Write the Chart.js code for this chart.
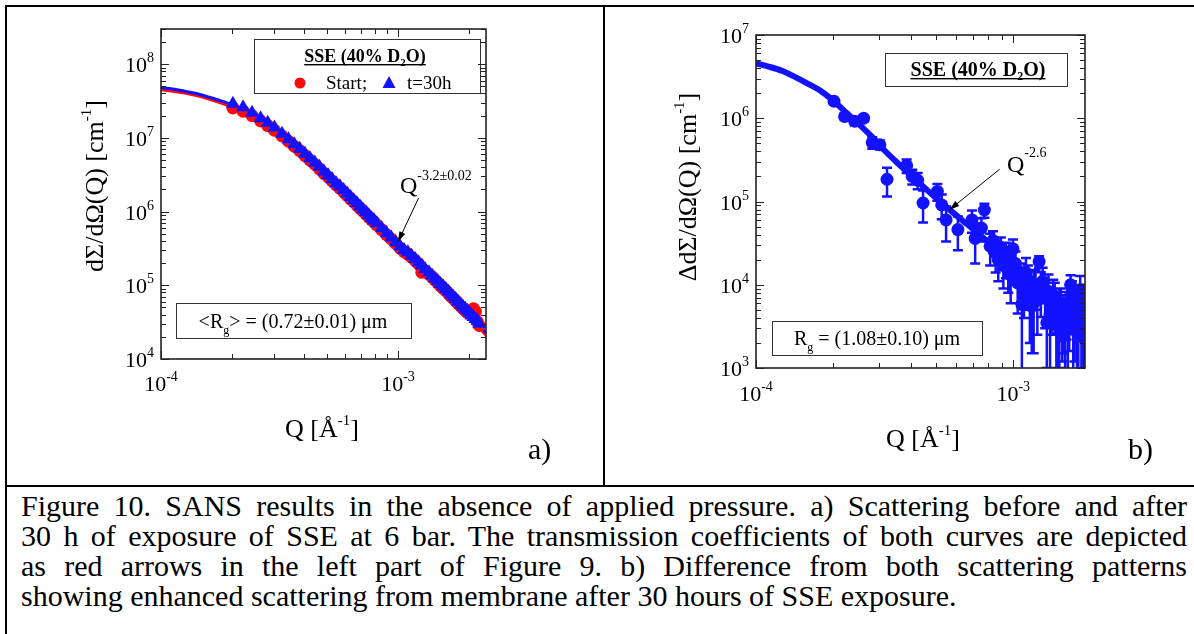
<!DOCTYPE html>
<html>
<head>
<meta charset="utf-8">
<title>SANS results in the absence of applied pressure</title>
<script src="https://cdn.jsdelivr.net/npm/chart.js@4.4.1/dist/chart.umd.min.js"></script>
<style>
  html, body { margin: 0; padding: 0; background: #fff; }
  body { width: 1194px; height: 634px; position: relative; overflow: hidden;
         font-family: "Liberation Serif", "Times New Roman", serif; color: #000; }
  .cell { position: absolute; top: 0; height: 486px; }
  .cell canvas { display: block; }
  #cellA { left: 0; width: 604px; }
  #cellB { left: 604px; width: 590px; }
  .rule { position: absolute; background: #000; z-index: 2; }
  #caption { position: absolute; left: 21px; top: 491px; width: 1166px;
             font-size: 30px; line-height: 30px; }
  #caption div { text-align: justify; text-align-last: justify; white-space: nowrap; }
  #caption div.last { text-align-last: left; }
</style>
</head>
<body>
<div class="cell" id="cellA"><canvas id="chartA" width="604" height="486"></canvas></div>
<div class="cell" id="cellB"><canvas id="chartB" width="590" height="486"></canvas></div>
<div class="rule" style="left:5px;top:5px;width:1189px;height:2px"></div>
<div class="rule" style="left:5px;top:5px;width:2px;height:629px"></div>
<div class="rule" style="left:603px;top:5px;width:2px;height:481px"></div>
<div class="rule" style="left:5px;top:485px;width:1189px;height:2px"></div>
<div id="caption">
  <div>Figure 10. SANS results in the absence of applied pressure. a) Scattering before and after</div>
  <div>30 h of exposure of SSE at 6 bar. The transmission coefficients of both curves are depicted</div>
  <div>as red arrows in the left part of Figure 9. b) Difference from both scattering patterns</div>
  <div class="last">showing enhanced scattering from membrane after 30 hours of SSE exposure.</div>
</div>
<script>
const SERIF = '"Liberation Serif", "Times New Roman", serif';
const BLUE = '#1212ff';
const RED = '#ff0a0a';

// ---- Panel a): scattering at start and after 30 h ----
const qA = [2.01e-4, 2.22e-4, 2.42e-4, 2.63e-4, 2.82e-4, 3.01e-4, 3.24e-4, 3.45e-4, 3.65e-4, 3.85e-4,
            4.05e-4, 4.25e-4, 4.46e-4, 4.66e-4, 4.87e-4, 5.07e-4, 5.27e-4, 5.48e-4, 5.68e-4, 5.89e-4,
            6.09e-4, 6.29e-4, 6.50e-4, 6.70e-4, 6.91e-4, 7.11e-4, 7.31e-4, 7.52e-4, 7.72e-4, 7.93e-4,
            8.13e-4, 8.54e-4, 8.95e-4, 9.36e-4, 9.77e-4,
            1.02e-3, 1.06e-3, 1.10e-3, 1.14e-3, 1.18e-3, 1.22e-3, 1.26e-3, 1.30e-3, 1.35e-3, 1.39e-3,
            1.43e-3, 1.47e-3, 1.51e-3, 1.55e-3, 1.59e-3, 1.63e-3, 1.67e-3, 1.71e-3, 1.75e-3, 1.79e-3,
            1.84e-3, 1.88e-3, 1.92e-3, 1.96e-3, 2.00e-3, 2.04e-3, 2.08e-3, 2.12e-3, 2.16e-3, 2.20e-3];
const startA = [2.55e7, 2.3e7, 2.0e7, 1.7e7, 1.47e7, 1.27e7, 1.06e7, 9.0e6, 7.7e6, 6.7e6,
                5.75e6, 5.0e6, 4.35e6, 3.8e6, 3.3e6, 2.95e6, 2.6e6, 2.32e6, 2.08e6, 1.86e6,
                1.67e6, 1.5e6, 1.35e6, 1.23e6, 1.11e6, 1.02e6, 9.3e5, 8.5e5, 7.8e5, 7.2e5,
                6.6e5, 5.65e5, 4.85e5, 4.25e5, 3.7e5,
                3.2e5, 2.85e5, 2.65e5, 2.4e5, 2.17e5, 1.95e5, 1.5e5, 1.58e5, 1.42e5, 1.3e5,
                1.18e5, 1.08e5, 9.9e4, 9.1e4, 8.5e4, 7.8e4, 7.1e4, 6.65e4, 6.2e4, 5.7e4,
                5.2e4, 4.85e4, 4.55e4, 4.3e4, 4.2e4, 4.6e4, 4.8e4, 4.4e4, 3.2e4, 2.85e4];
const t30A = [2.9e7, 2.6e7, 2.2e7, 1.85e7, 1.6e7, 1.38e7, 1.14e7, 9.6e6, 8.2e6, 7.1e6,
              6.1e6, 5.3e6, 4.6e6, 4.05e6, 3.5e6, 3.1e6, 2.75e6, 2.4e6, 2.2e6, 1.96e6,
              1.76e6, 1.58e6, 1.42e6, 1.31e6, 1.17e6, 1.07e6, 9.8e5, 8.9e5, 8.1e5, 7.55e5,
              6.95e5, 5.95e5, 5.1e5, 4.45e5, 3.85e5,
              3.35e5, 3.0e5, 2.8e5, 2.52e5, 2.28e5, 2.04e5, 1.85e5, 1.67e5, 1.49e5, 1.36e5,
              1.24e5, 1.14e5, 1.04e5, 9.6e4, 8.9e4, 8.2e4, 7.5e4, 7.0e4, 6.5e4, 6.0e4,
              5.5e4, 5.1e4, 4.8e4, 4.5e4, 4.2e4, 3.9e4, 3.7e4, 3.5e4, 3.3e4, 3.0e4];
const qFitA = [1.00e-4, 1.12e-4, 1.26e-4, 1.41e-4, 1.58e-4, 1.78e-4, 2.00e-4, 2.24e-4, 2.51e-4, 2.82e-4,
               3.16e-4, 3.55e-4, 3.98e-4, 4.47e-4, 5.01e-4, 5.62e-4, 6.31e-4, 7.08e-4, 7.94e-4, 8.91e-4,
               1.00e-3, 1.12e-3, 1.26e-3, 1.41e-3, 1.58e-3, 1.78e-3, 2.00e-3, 2.24e-3, 2.40e-3];
const fitStartA = [4.5e7, 4.3e7, 4.05e7, 3.75e7, 3.4e7, 3.0e7, 2.62e7, 2.2e7, 1.78e7, 1.4e7,
                   1.1e7, 8.2e6, 5.9e6, 4.2e6, 3.0e6, 2.07e6, 1.46e6, 1.0e6, 6.95e5, 4.8e5,
                   3.3e5, 2.3e5, 1.6e5, 1.1e5, 7.6e4, 5.25e4, 3.65e4, 2.5e4, 1.95e4];
const fitT30A = [4.8e7, 4.6e7, 4.3e7, 4.0e7, 3.6e7, 3.2e7, 2.8e7, 2.35e7, 1.9e7, 1.5e7,
                 1.17e7, 8.7e6, 6.3e6, 4.5e6, 3.2e6, 2.2e6, 1.55e6, 1.07e6, 7.4e5, 5.1e5,
                 3.5e5, 2.45e5, 1.7e5, 1.17e5, 8.1e4, 5.6e4, 3.9e4, 2.7e4, 2.1e4];

// ---- Panel b): difference of both patterns (with error bars) ----
const qB = [2.01e-4, 2.21e-4, 2.42e-4, 2.62e-4, 2.83e-4, 3.03e-4, 3.23e-4, 3.85e-4, 4.05e-4, 4.25e-4,
            4.46e-4, 5.07e-4, 5.27e-4, 5.48e-4, 6.09e-4, 6.91e-4, 7.11e-4, 7.52e-4, 7.72e-4, 8.13e-4,
            8.34e-4, 8.54e-4, 8.74e-4, 8.95e-4, 9.15e-4, 9.36e-4, 9.56e-4, 9.77e-4, 9.97e-4, 1.02e-3,
            1.04e-3, 1.06e-3, 1.08e-3, 1.10e-3, 1.12e-3, 1.14e-3, 1.16e-3, 1.18e-3, 1.20e-3, 1.22e-3,
            1.24e-3, 1.26e-3, 1.28e-3, 1.30e-3, 1.33e-3, 1.35e-3, 1.37e-3, 1.39e-3, 1.41e-3, 1.43e-3,
            1.45e-3, 1.47e-3, 1.49e-3, 1.51e-3, 1.53e-3, 1.55e-3, 1.57e-3, 1.59e-3, 1.61e-3, 1.63e-3,
            1.65e-3, 1.67e-3, 1.69e-3, 1.71e-3, 1.73e-3, 1.75e-3, 1.77e-3, 1.79e-3, 1.82e-3, 1.84e-3,
            1.86e-3, 1.88e-3, 1.90e-3];
const diffB = [1.6e6, 1.05e6, 9.2e5, 1.0e6, 5.1e5, 4.8e5, 1.85e5, 2.7e5, 2.0e5, 1.8e5,
               9.6e4, 1.32e5, 9.1e4, 6.0e4, 4.6e4, 6.0e4, 3.6e4, 4.8e4, 7.9e4, 2.9e4,
               3.4e4, 2.4e4, 2.0e4, 2.8e4, 1.7e4, 2.2e4, 1.5e4, 1.3e4, 2.7e4, 1.8e4,
               1.05e4, 1.2e4, 5.8e3, 9.0e3, 1.4e4, 1.1e4, 7.0e3, 5.5e3, 8.0e3, 1.0e4,
               6.5e3, 1.9e4, 9.1e3, 1.1e4, 7.0e3, 3.5e3, 8.3e3, 4.4e3, 5.5e3, 7.5e3,
               6.6e3, 4.0e3, 3.2e3, 5.0e3, 6.0e3, 2.4e3, 4.5e3, 3.0e3, 5.2e3, 3.8e3,
               4.6e3, 1.0e4, 8.0e3, 2.9e3, 4.2e3, 6.5e3, 3.5e3, 2.4e3, 8.7e3, 3.0e3,
               6.5e3, 5.0e3, 4.0e3];
const errB = [1.2e5, 1.0e5, 1.0e5, 9e4, 8e4, 6e4, 7e4, 5e4, 4e4, 4e4,
              4e4, 3e4, 3e4, 2.7e4, 2.0e4, 1.8e4, 1.8e4, 1.5e4, 1.5e4, 1.2e4,
              1.0e4, 1.0e4, 9e3, 9e3, 8e3, 1.0e4, 7e3, 7e3, 8e3, 7e3,
              6e3, 6e3, 6e3, 5e3, 7e3, 6e3, 5e3, 4e3, 6.5e3, 5e3,
              4e3, 3e3, 5e3, 5e3, 4e3, 2.5e3, 5e3, 5e3, 3e3, 4e3,
              4e3, 3e3, 3e3, 4e3, 3e3, 1.2e3, 3e3, 2.5e3, 3e3, 3e3,
              3e3, 3e3, 3e3, 3e3, 3e3, 3e3, 3e3, 2.4e3, 4e3, 2.5e3,
              3e3, 5e3, 3e3];
const qFitB = [1.00e-4, 1.12e-4, 1.26e-4, 1.41e-4, 1.58e-4, 1.78e-4, 2.00e-4, 2.24e-4, 2.51e-4, 2.82e-4,
               3.16e-4, 3.55e-4, 3.98e-4, 4.47e-4, 5.01e-4, 5.62e-4, 6.31e-4, 7.08e-4, 7.94e-4, 8.91e-4,
               1.00e-3, 1.12e-3, 1.26e-3, 1.41e-3, 1.58e-3, 1.78e-3, 2.00e-3];
const fitB = [4.57e6, 4.17e6, 3.72e6, 3.16e6, 2.63e6, 2.14e6, 1.62e6, 1.17e6, 8.5e5, 6.0e5,
              4.1e5, 2.9e5, 2.1e5, 1.51e5, 1.10e5, 8.1e4, 6.0e4, 4.5e4, 3.3e4, 2.45e4,
              1.82e4, 1.35e4, 1.0e4, 7.4e3, 5.5e3, 4.1e3, 3.0e3];

// decade exponents used for the tick labels
const xExpA = [-4, -3];
const yExpA = [4, 5, 6, 7, 8];
const xExpB = [-4, -3];
const yExpB = [3, 4, 5, 6, 7];

const pts = (xs, ys) => xs.map((x, i) => ({ x, y: ys[i] }));

// ---------- text helpers (plain, superscript, subscript runs) ----------
function partFont(p, size) {
  const s = p.size || ((p.sup || p.sub) ? Math.round(size * 0.62) : size);
  return (p.bold ? 'bold ' : '') + s + 'px ' + SERIF;
}
function partDy(p, size) {
  if (p.sup) return -(p.rise != null ? p.rise : size * 0.45);
  if (p.sub) return p.drop != null ? p.drop : size * 0.28;
  return 0;
}
function richWidth(ctx, parts, size) {
  let w = 0;
  for (const p of parts) { ctx.font = partFont(p, size); w += ctx.measureText(p.t).width; }
  return w;
}
function drawRich(ctx, parts, x, y, size, align, underline) {
  const w = richWidth(ctx, parts, size);
  let cx = align === 'center' ? x - w / 2 : align === 'right' ? x - w : x;
  const x0 = cx;
  ctx.textAlign = 'left';
  ctx.textBaseline = 'alphabetic';
  for (const p of parts) {
    ctx.font = partFont(p, size);
    ctx.fillText(p.t, cx, y + partDy(p, size));
    cx += ctx.measureText(p.t).width;
  }
  if (underline) ctx.fillRect(x0, y + 2, w, 1.4);
  return w;
}

// ---------- frame with inward log ticks on all four sides ----------
function logTicks(min, max) {
  const out = [];
  for (let d = Math.floor(Math.log10(min)); d <= Math.ceil(Math.log10(max)); d++) {
    for (let m = 1; m <= 9; m++) {
      const v = m * Math.pow(10, d);
      if (v >= min * 0.999 && v <= max * 1.001) out.push({ v, major: m === 1 });
    }
  }
  return out;
}
function drawFrame(chart) {
  const { ctx, chartArea: a, scales: { x, y } } = chart;
  ctx.save();
  ctx.strokeStyle = '#222';
  ctx.lineWidth = 1;
  ctx.beginPath();
  for (const t of logTicks(x.min, x.max)) {
    const px = Math.round(x.getPixelForValue(t.v)) + 0.5;
    const L = t.major ? 8 : 5;
    ctx.moveTo(px, a.bottom); ctx.lineTo(px, a.bottom - L);
    ctx.moveTo(px, a.top); ctx.lineTo(px, a.top + L);
  }
  for (const t of logTicks(y.min, y.max)) {
    const py = Math.round(y.getPixelForValue(t.v)) + 0.5;
    const L = t.major ? 8 : 5;
    ctx.moveTo(a.left, py); ctx.lineTo(a.left + L, py);
    ctx.moveTo(a.right, py); ctx.lineTo(a.right - L, py);
  }
  ctx.stroke();
  ctx.lineWidth = 1.6;
  ctx.strokeRect(a.left, a.top, a.right - a.left, a.bottom - a.top);
  ctx.restore();
}
function drawTickLabels(chart, xExp, yExp, xGap) {
  const { ctx, chartArea: a, scales: { x, y } } = chart;
  ctx.save();
  ctx.fillStyle = '#000';
  for (const e of yExp) {
    const py = y.getPixelForValue(Math.pow(10, e));
    drawRich(ctx, [{ t: '10' }, { t: String(e), sup: true, size: 14, rise: 10 }], a.left - 7, py + 8, 22, 'right');
  }
  for (const e of xExp) {
    const px = x.getPixelForValue(Math.pow(10, e));
    drawRich(ctx, [{ t: '10' }, { t: String(e), sup: true, size: 14, rise: 10 }], px, a.bottom + xGap, 22, 'center');
  }
  ctx.restore();
}
function drawYTitle(ctx, parts, cx, cy, size) {
  ctx.save();
  ctx.translate(cx, cy);
  ctx.rotate(-Math.PI / 2);
  ctx.fillStyle = '#000';
  drawRich(ctx, parts, 0, size * 0.33, size, 'center');
  ctx.restore();
}
function drawBox(ctx, x, y, w, h) {
  ctx.save();
  ctx.strokeStyle = '#333';
  ctx.lineWidth = 1;
  ctx.strokeRect(x + 0.5, y + 0.5, w, h);
  ctx.restore();
}
function drawArrow(chart, from, to) {
  const { ctx, scales: { x, y } } = chart;
  const x1 = x.getPixelForValue(from[0]), y1 = y.getPixelForValue(from[1]);
  const x2 = x.getPixelForValue(to[0]), y2 = y.getPixelForValue(to[1]);
  const ang = Math.atan2(y2 - y1, x2 - x1);
  const L = 10, W = 3.2;
  ctx.save();
  ctx.strokeStyle = '#000'; ctx.fillStyle = '#000'; ctx.lineWidth = 1;
  ctx.beginPath();
  ctx.moveTo(x1, y1);
  ctx.lineTo(x2 - Math.cos(ang) * L * 0.8, y2 - Math.sin(ang) * L * 0.8);
  ctx.stroke();
  ctx.beginPath();
  ctx.moveTo(x2, y2);
  ctx.lineTo(x2 - Math.cos(ang) * L - Math.sin(ang) * W, y2 - Math.sin(ang) * L + Math.cos(ang) * W);
  ctx.lineTo(x2 - Math.cos(ang) * L + Math.sin(ang) * W, y2 - Math.sin(ang) * L - Math.cos(ang) * W);
  ctx.closePath();
  ctx.fill();
  ctx.restore();
}
function drawErrorBars(chart, qs, ys, es, color) {
  const { ctx, chartArea: a, scales: { x, y } } = chart;
  ctx.save();
  ctx.beginPath();
  ctx.rect(a.left, a.top, a.right - a.left, a.bottom - a.top);
  ctx.clip();
  ctx.strokeStyle = color;
  ctx.lineWidth = 2.5;
  ctx.beginPath();
  qs.forEach((q, i) => {
    const px = x.getPixelForValue(q);
    const hi = ys[i] + es[i], lo = ys[i] - es[i];
    const pyHi = y.getPixelForValue(hi);
    const pyLo = lo > 0 ? y.getPixelForValue(lo) : a.bottom + 10;
    ctx.moveTo(px, pyHi); ctx.lineTo(px, pyLo);
    ctx.moveTo(px - 5, pyHi); ctx.lineTo(px + 5, pyHi);
    if (lo > 0) { ctx.moveTo(px - 5, pyLo); ctx.lineTo(px + 5, pyLo); }
  });
  ctx.stroke();
  ctx.restore();
}

const titleY = [{ t: 'd\u03A3/d\u03A9(Q) [cm' }, { t: '-1', sup: true, size: 15, rise: 12 }, { t: ']' }];
const titleYB = [{ t: '\u0394d\u03A3/d\u03A9(Q) [cm' }, { t: '-1', sup: true, size: 15, rise: 12 }, { t: ']' }];
const titleX = [{ t: 'Q [\u00C5' }, { t: '-1', sup: true, size: 15, rise: 12 }, { t: ']' }];

const decorA = {
  id: 'decorA',
  afterDatasetsDraw(chart) {
    const ctx = chart.ctx;
    drawFrame(chart);
    drawTickLabels(chart, xExpA, yExpA, 32);
    ctx.save();
    ctx.fillStyle = '#000';
    drawYTitle(ctx, titleY, 94, 186, 26);
    drawRich(ctx, titleX, 322, 437, 26, 'center');
    // legend box
    drawBox(ctx, 254, 39, 226, 54);
    drawRich(ctx, [{ t: 'SSE (40% D', bold: true }, { t: '2', sub: true, bold: true, drop: 4 }, { t: 'O)', bold: true }],
             365, 62, 18, 'center', true);
    ctx.fillStyle = RED;
    ctx.beginPath(); ctx.arc(300, 83, 5.5, 0, Math.PI * 2); ctx.fill();
    ctx.fillStyle = BLUE;
    ctx.beginPath(); ctx.moveTo(389, 76); ctx.lineTo(395.5, 88); ctx.lineTo(382.5, 88); ctx.closePath(); ctx.fill();
    ctx.fillStyle = '#000';
    drawRich(ctx, [{ t: 'Start;' }], 326, 89, 19, 'left');
    drawRich(ctx, [{ t: 't=30h' }], 407, 89, 19, 'left');
    // radius box
    drawBox(ctx, 176, 303, 235, 35);
    drawRich(ctx, [{ t: '<R' }, { t: 'g', sub: true, drop: 6 }, { t: '> = (0.72\u00B10.01) \u03BCm' }], 293, 328, 20, 'center');
    // power-law annotation
    drawRich(ctx, [{ t: 'Q' }, { t: '-3.2\u00B10.02', sup: true, size: 14, rise: 13 }], 400, 193, 24, 'left');
    ctx.restore();
    drawArrow(chart, [1.22e-3, 1.52e6], [1.0e-3, 3.9e5]);
    ctx.save();
    ctx.fillStyle = '#000';
    drawRich(ctx, [{ t: 'a)' }], 528, 459, 30, 'left');
    ctx.restore();
  }
};

const decorB = {
  id: 'decorB',
  beforeDatasetsDraw(chart) {
    drawErrorBars(chart, qB, diffB, errB, BLUE);
  },
  afterDatasetsDraw(chart) {
    const ctx = chart.ctx;
    drawFrame(chart);
    drawTickLabels(chart, xExpB, yExpB, 33);
    ctx.save();
    ctx.fillStyle = '#000';
    drawYTitle(ctx, titleYB, 83, 187, 26);
    drawRich(ctx, titleX, 319, 447, 26, 'center');
    drawBox(ctx, 281, 53, 182, 33);
    drawRich(ctx, [{ t: 'SSE (40% D', bold: true }, { t: '2', sub: true, bold: true, drop: 4 }, { t: 'O)', bold: true }],
             374, 76, 20, 'center', true);
    drawBox(ctx, 168, 321, 210, 34);
    drawRich(ctx, [{ t: 'R' }, { t: 'g', sub: true, drop: 6 }, { t: ' = (1.08\u00B10.10) \u03BCm' }], 273, 345, 20, 'center');
    drawRich(ctx, [{ t: 'Q' }, { t: '-2.6', sup: true, size: 14, rise: 15 }], 403, 172, 24, 'left');
    ctx.restore();
    drawArrow(chart, [8.85e-4, 2.44e5], [5.65e-4, 7.95e4]);
    ctx.save();
    ctx.fillStyle = '#000';
    drawRich(ctx, [{ t: 'b)' }], 524, 459, 30, 'left');
    ctx.restore();
  }
};

function makeChart(id, datasets, padding, xr, yr, plugin) {
  return new Chart(document.getElementById(id), {
    type: 'line',
    data: { datasets },
    options: {
      responsive: false,
      animation: false,
      events: [],
      layout: { padding },
      scales: {
        x: { type: 'logarithmic', min: xr[0], max: xr[1], display: false },
        y: { type: 'logarithmic', min: yr[0], max: yr[1], display: false }
      },
      plugins: { legend: { display: false }, tooltip: { enabled: false } }
    },
    plugins: [plugin]
  });
}

const marker = (style, r, color) => ({
  showLine: false, pointStyle: style, pointRadius: r, pointBackgroundColor: color,
  pointBorderColor: color, pointBorderWidth: 0, clip: 0
});
const curve = (color, w) => ({
  borderColor: color, borderWidth: w, pointRadius: 0, cubicInterpolationMode: 'monotone', fill: false, clip: 0
});

makeChart('chartA', [
  Object.assign({ label: 't=30h', data: pts(qA, t30A) }, marker('triangle', 8, BLUE)),
  Object.assign({ label: 'Start', data: pts(qA, startA) }, marker('circle', 6.5, RED)),
  Object.assign({ label: 'fit t=30h', data: pts(qFitA, fitT30A) }, curve(BLUE, 3)),
  Object.assign({ label: 'fit Start', data: pts(qFitA, fitStartA) }, curve(RED, 3))
], { left: 161, top: 29, right: 118, bottom: 127 }, [1e-4, 2.35e-3], [1e4, 3e8], decorA);

makeChart('chartB', [
  Object.assign({ label: 'difference', data: pts(qB, diffB) }, marker('circle', 6.5, BLUE)),
  Object.assign({ label: 'fit', data: pts(qFitB, fitB) }, curve(BLUE, 6))
], { left: 152, top: 35, right: 109, bottom: 118 }, [1e-4, 1.9e-3], [1e3, 1e7], decorB);
</script>
</body>
</html>
